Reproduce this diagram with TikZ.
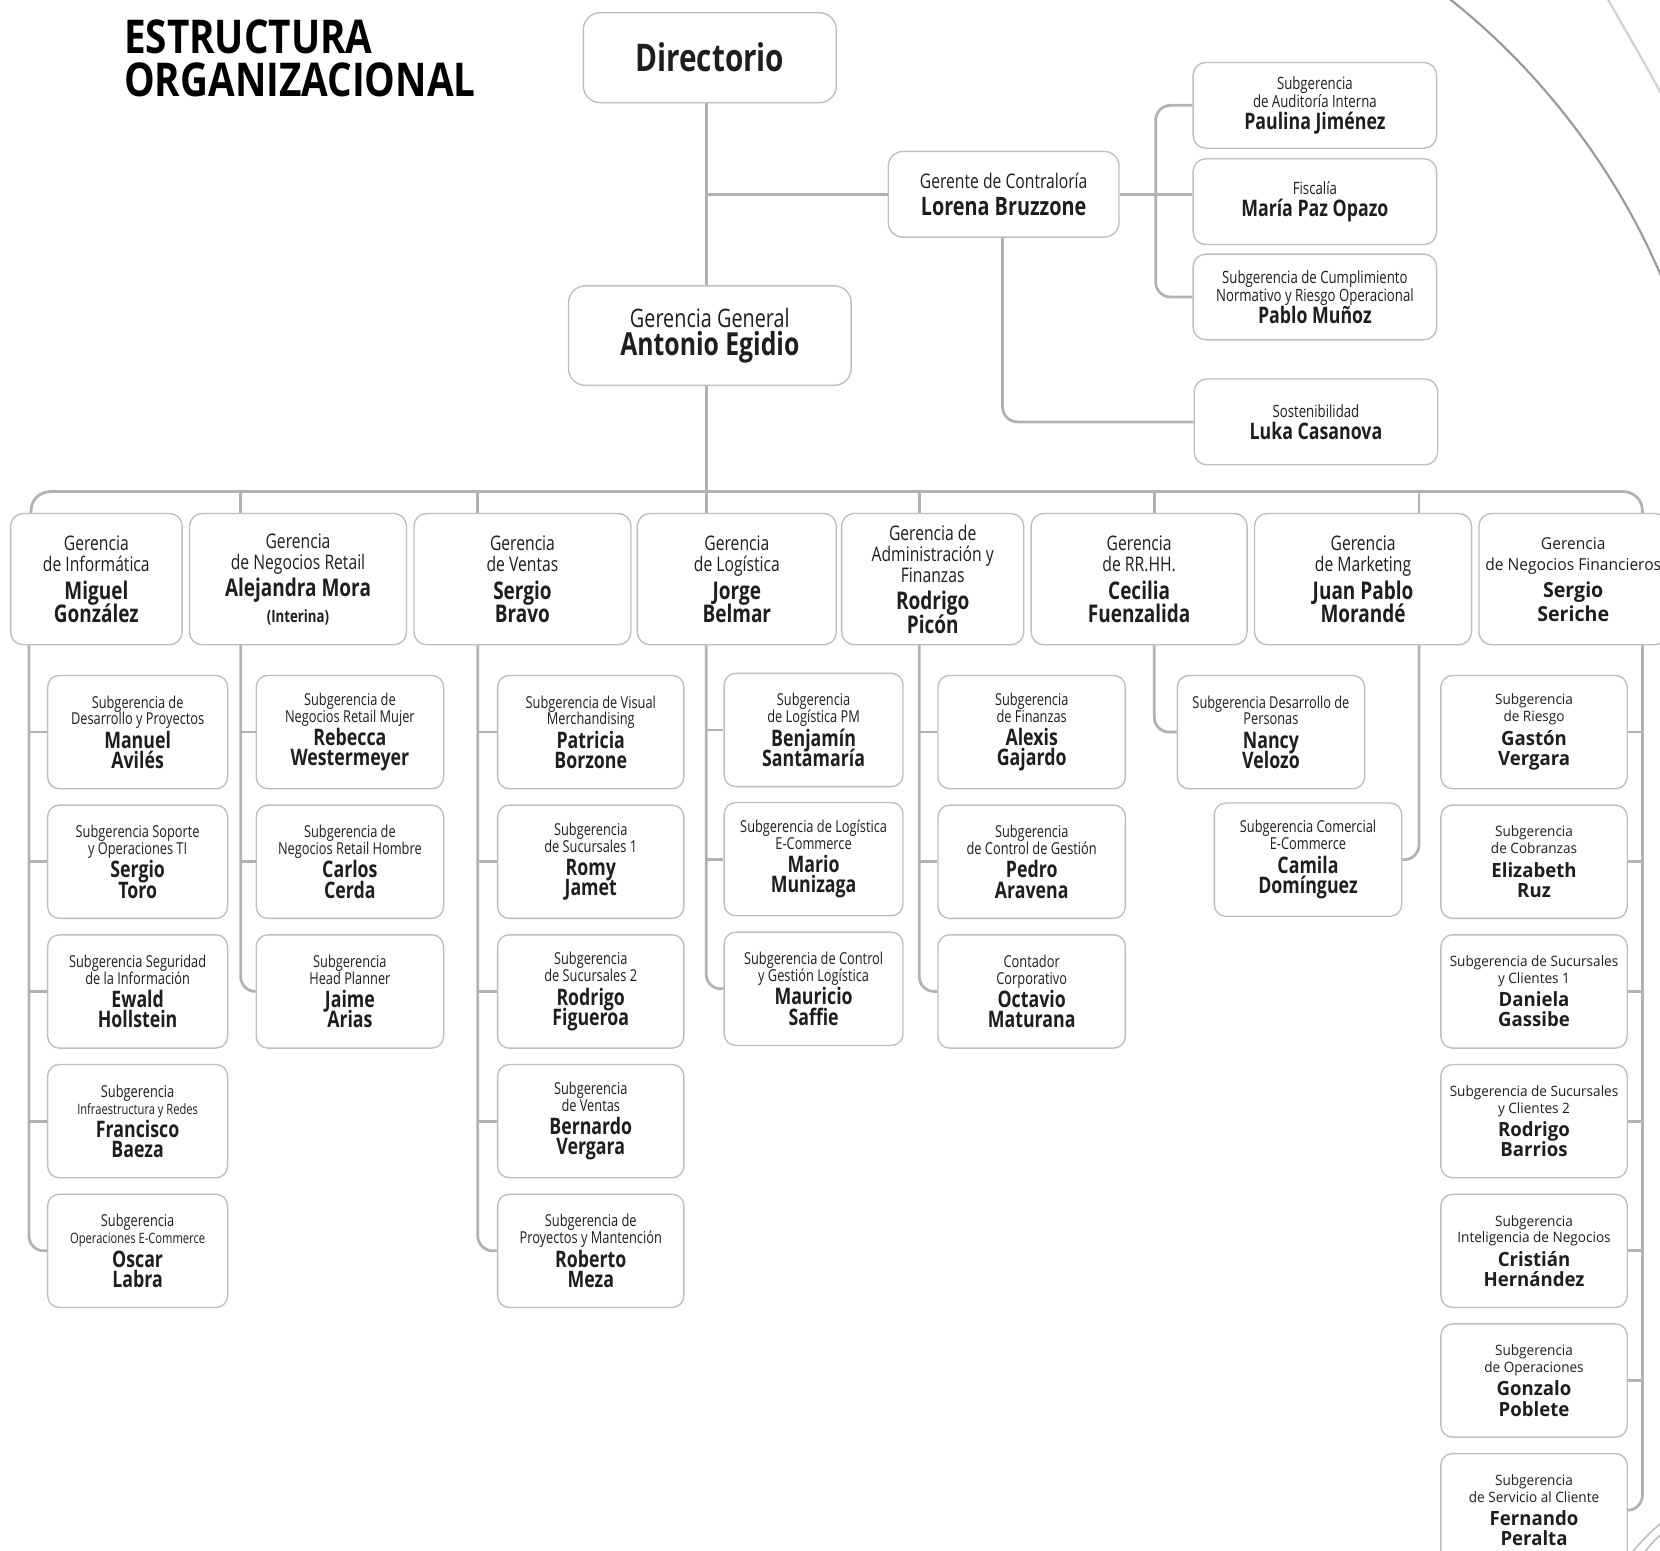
\documentclass[tikz,border=0pt]{standalone}
\usepackage{fontspec}
\setmainfont{Open Sans}[FakeStretch=0.78]
\newfontfamily\wf{Open Sans}[FakeStretch=0.95]
\newfontfamily\tf{Open Sans}[FakeStretch=0.83]
\usetikzlibrary{calc}
\definecolor{boxc}{HTML}{BEBEBE}
\definecolor{linec}{HTML}{B2B2B2}
\definecolor{txt}{HTML}{1E1E1E}
\newcommand\bn{\fontsize{21.5}{16}\selectfont\bfseries}
\newcommand\bw{\wf\fontsize{18.5}{16}\selectfont\bfseries}
\newcommand\gbn{\fontsize{23}{20}\selectfont\bfseries}
\newcommand\gbw{\wf\fontsize{19.5}{20}\selectfont\bfseries}
\newcommand\smallt{\fontsize{13.5}{16}\selectfont}
% name, x, y, width, light lines, bold1, bold2
\newcommand\subbox[7]{\node[sbox, minimum width=#4] (#1) at (#2,#3) {#5\\[6pt]\bn #6\\[3pt]\bn #7};}
\newcommand\finbox[5]{\node[sboxw] (#1) at (1449,#2) {#3\\[6pt]\bw #4\\[3pt]\bw #5};}
\tikzset{
  box/.style={draw=boxc, line width=1.3pt, fill=white, align=center, inner sep=0pt, text=txt},
  bigbox/.style={box, rounded corners=16pt},
  gbox/.style={box, rounded corners=12pt, minimum height=124pt, font=\fontsize{19}{20}\selectfont},
  sbox/.style={box, rounded corners=11pt, minimum height=107pt, font=\fontsize{15.5}{16}\selectfont},
  sboxw/.style={box, rounded corners=11pt, minimum height=107pt, minimum width=176pt, font=\wf\fontsize{13.5}{16}\selectfont},
  cbox/.style={box, rounded corners=12pt, minimum width=230pt, minimum height=81pt, font=\fontsize{16}{17}\selectfont},
  conn/.style={draw=linec, line width=2.6pt, rounded corners=14pt},
}
\begin{document}
\lineskiplimit=-100pt
\begin{tikzpicture}[x=1pt,y=-1pt]
\useasboundingbox (0,0) rectangle (1568,1465);

% decorative arcs
\draw[draw=black!40, line width=2pt] (1368,-2) .. controls (1462,72) and (1532,170) .. (1572,268);
\draw[draw=black!18, line width=2pt] (1518,-2) .. controls (1536,30) and (1554,60) .. (1572,94);
\draw[draw=black!25, line width=1.5pt] (1540,1468) .. controls (1550,1456) and (1560,1446) .. (1572,1436);
\draw[draw=black!25, line width=1.5pt] (1552,1468) .. controls (1558,1460) and (1564,1453) .. (1572,1447);

% title
\node[anchor=north west, align=left, inner sep=0pt, font=\tf\fontsize{44}{41}\selectfont\bfseries] (title) at (117,18) {ESTRUCTURA\\ORGANIZACIONAL};

% top boxes
\node[bigbox, minimum width=239pt, minimum height=85pt, font=\fontsize{36}{36}\selectfont\bfseries] (dir) at (670.5,54.5) {Directorio};
\node[bigbox, minimum width=267pt, minimum height=94pt, font=\fontsize{24}{20}\selectfont] (gg) at (670.5,317) {Gerencia General\\[6pt]{\fontsize{30}{20}\selectfont\bfseries Antonio Egidio}};
\node[box, rounded corners=14pt, minimum width=218pt, minimum height=81pt, font=\fontsize{19}{20}\selectfont] (contr) at (948,183.5) {Gerente de Contraloría\\[6pt]{\fontsize{24}{20}\selectfont\bfseries Lorena Bruzzone}};

\node[cbox] (aud) at (1242,99.5) {Subgerencia\\de Auditoría Interna\\[4pt]{\bn Paulina Jiménez}};
\node[cbox] (fisc) at (1242,190.5) {Fiscalía\\[4pt]{\bn María Paz Opazo}};
\node[cbox] (cump) at (1242,280.5) {Subgerencia de Cumplimiento\\Normativo y Riesgo Operacional\\[4pt]{\bn Pablo Muñoz}};
\node[cbox] (sost) at (1243,398.5) {Sostenibilidad\\[4pt]{\bn Luka Casanova}};

% gerencias
\node[gbox, minimum width=162pt] (inf) at (91,547) {Gerencia\\de Informática\\[6pt]\gbn Miguel\\[2pt]\gbn González};
\node[gbox, minimum width=205pt] (ret) at (281.5,547) {Gerencia\\de Negocios Retail\\[6pt]\gbn Alejandra Mora\\[4pt]{\fontsize{16}{16}\selectfont\bfseries (Interina)}};
\node[gbox, minimum width=205pt] (ven) at (493.5,547) {Gerencia\\de Ventas\\[6pt]\gbn Sergio\\[2pt]\gbn Bravo};
\node[gbox, minimum width=188pt] (log) at (696,547) {Gerencia\\de Logística\\[6pt]\gbn Jorge\\[2pt]\gbn Belmar};
\node[gbox, minimum width=172pt] (adm) at (881,547) {Gerencia de\\Administración y\\Finanzas\\[6pt]\gbn Rodrigo\\[2pt]\gbn Picón};
\node[gbox, minimum width=204pt] (rrhh) at (1076,547) {Gerencia\\de RR.HH.\\[6pt]\gbn Cecilia\\[2pt]\gbn Fuenzalida};
\node[gbox, minimum width=205pt] (mkt) at (1287.5,547) {Gerencia\\de Marketing\\[6pt]\gbn Juan Pablo\\[2pt]\gbn Morandé};
\node[gbox, minimum width=178pt, font=\wf\fontsize{15.5}{20}\selectfont] (fin) at (1486,547) {Gerencia\\de Negocios Financieros\\[6pt]\gbw Sergio\\[2pt]\gbw Seriche};

% column 1
\subbox{i1}{130}{691.5}{170pt}{Subgerencia de\\Desarrollo y Proyectos}{Manuel}{Avilés}
\subbox{i2}{130}{814}{170pt}{Subgerencia Soporte\\y Operaciones TI}{Sergio}{Toro}
\subbox{i3}{130}{936.5}{170pt}{Subgerencia Seguridad\\de la Información}{Ewald}{Hollstein}
\subbox{i4}{130}{1059}{170pt}{Subgerencia\\\smallt Infraestructura y Redes}{Francisco}{Baeza}
\subbox{i5}{130}{1181.5}{170pt}{Subgerencia\\\smallt Operaciones E-Commerce}{Oscar}{Labra}
% column 2
\subbox{r1}{330.5}{691.5}{177pt}{Subgerencia de\\Negocios Retail Mujer}{Rebecca}{Westermeyer}
\subbox{r2}{330.5}{814}{177pt}{Subgerencia de\\Negocios Retail Hombre}{Carlos}{Cerda}
\subbox{r3}{330.5}{936.5}{177pt}{Subgerencia\\Head Planner}{Jaime}{Arias}
% column 3
\subbox{v1}{558}{691.5}{176pt}{Subgerencia de Visual\\Merchandising}{Patricia}{Borzone}
\subbox{v2}{558}{814}{176pt}{Subgerencia\\de Sucursales 1}{Romy}{Jamet}
\subbox{v3}{558}{936.5}{176pt}{Subgerencia\\de Sucursales 2}{Rodrigo}{Figueroa}
\subbox{v4}{558}{1059}{176pt}{Subgerencia\\de Ventas}{Bernardo}{Vergara}
\subbox{v5}{558}{1181.5}{176pt}{Subgerencia de\\Proyectos y Mantención}{Roberto}{Meza}
% column 4
\subbox{l1}{768.5}{689.5}{169pt}{Subgerencia\\de Logística PM}{Benjamín}{Santamaría}
\subbox{l2}{768.5}{811.5}{169pt}{Subgerencia de Logística\\E-Commerce}{Mario}{Munizaga}
\subbox{l3}{768.5}{934}{169pt}{Subgerencia de Control\\y Gestión Logística}{Mauricio}{Saffie}
% column 5
\subbox{a1}{974.5}{691.5}{177pt}{Subgerencia\\de Finanzas}{Alexis}{Gajardo}
\subbox{a2}{974.5}{814}{177pt}{Subgerencia\\de Control de Gestión}{Pedro}{Aravena}
\subbox{a3}{974.5}{936.5}{177pt}{Contador\\Corporativo}{Octavio}{Maturana}
% column 6, 7
\subbox{h1}{1200.5}{691.5}{177pt}{Subgerencia Desarrollo de\\Personas}{Nancy}{Velozo}
\subbox{m1}{1235.5}{812}{177pt}{Subgerencia Comercial\\E-Commerce}{Camila}{Domínguez}
% column 8
\finbox{f1}{691.5}{Subgerencia\\de Riesgo}{Gastón}{Vergara}
\finbox{f2}{814}{Subgerencia\\de Cobranzas}{Elizabeth}{Ruz}
\finbox{f3}{936.5}{Subgerencia de Sucursales\\y Clientes 1}{Daniela}{Gassibe}
\finbox{f4}{1059}{Subgerencia de Sucursales\\y Clientes 2}{Rodrigo}{Barrios}
\finbox{f5}{1181.5}{Subgerencia\\Inteligencia de Negocios}{Cristián}{Hernández}
\finbox{f6}{1304}{Subgerencia\\de Operaciones}{Gonzalo}{Poblete}
\finbox{f7}{1426.5}{Subgerencia\\de Servicio al Cliente}{Fernando}{Peralta}

% ---------- connectors ----------
\coordinate (trunk) at ([xshift=-3.5pt]gg.north);
\coordinate (busy) at ([yshift=20pt]inf.north);
\coordinate (infT) at ($(inf.north west)+(20,0)$);
\coordinate (finT) at ($(fin.north west)+(155,0)$);
\coordinate (retT) at ($(ret.north west)+(49,0)$);
\coordinate (venT) at ($(ven.north west)+(61,0)$);
\coordinate (admT) at ($(adm.north west)+(74,0)$);
\coordinate (rrhT) at ($(rrhh.north west)+(117,0)$);
\coordinate (mktT) at ($(mkt.north west)+(156,0)$);
\coordinate (infB) at ($(inf.south west)+(18,0)$);
\coordinate (retB) at ($(ret.south west)+(49,0)$);
\coordinate (venB) at ($(ven.south west)+(61,0)$);
\coordinate (logB) at (trunk |- log.south);
\coordinate (admB) at ($(adm.south west)+(74,0)$);
\coordinate (rrhB) at ($(rrhh.south west)+(117,0)$);
\coordinate (mktB) at ($(mkt.south west)+(156,0)$);
\coordinate (finB) at ($(fin.south west)+(155,0)$);
\coordinate (cjn) at ($(contr.east)+(34,0)$);

\draw[conn] ([xshift=-3.5pt]dir.south) -- (trunk);
\draw[conn] (contr.west) -- (contr.west -| trunk);
\draw[conn] (contr.east) -- (contr.east -| fisc.west);
\draw[conn] (aud.west) -- (aud.west -| cjn) -- (cump.west -| cjn) -- (cump.west);
\draw[conn] ([xshift=-1pt]contr.south) |- (sost.west);

\draw[conn] (trunk |- gg.south) -- (trunk |- log.north);
\draw[conn, rounded corners=18pt] (infT) -- (infT |- busy) -- (finT |- busy) -- (finT);
\foreach \t in {retT,venT,admT,rrhT,mktT} \draw[conn] (\t) -- (\t |- busy);

\draw[conn] (infB) |- (i5.west);
\foreach \b in {i1,i2,i3,i4} \draw[conn] (\b.west) -- (\b.west -| infB);
\draw[conn] (retB) |- (r3.west);
\foreach \b in {r1,r2} \draw[conn] (\b.west) -- (\b.west -| retB);
\draw[conn] (venB) |- (v5.west);
\foreach \b in {v1,v2,v3,v4} \draw[conn] (\b.west) -- (\b.west -| venB);
\draw[conn] (logB) |- (l3.west);
\foreach \b in {l1,l2} \draw[conn] (\b.west) -- (\b.west -| logB);
\draw[conn] (admB) |- (a3.west);
\foreach \b in {a1,a2} \draw[conn] (\b.west) -- (\b.west -| admB);
\draw[conn] (rrhB) |- (h1.west);
\draw[conn] (mktB) |- (m1.east);
\draw[conn] (finB) |- (f7.east);
\foreach \b in {f1,f2,f3,f4,f5,f6} \draw[conn] (\b.east) -- (\b.east -| finB);
\end{tikzpicture}
\end{document}
